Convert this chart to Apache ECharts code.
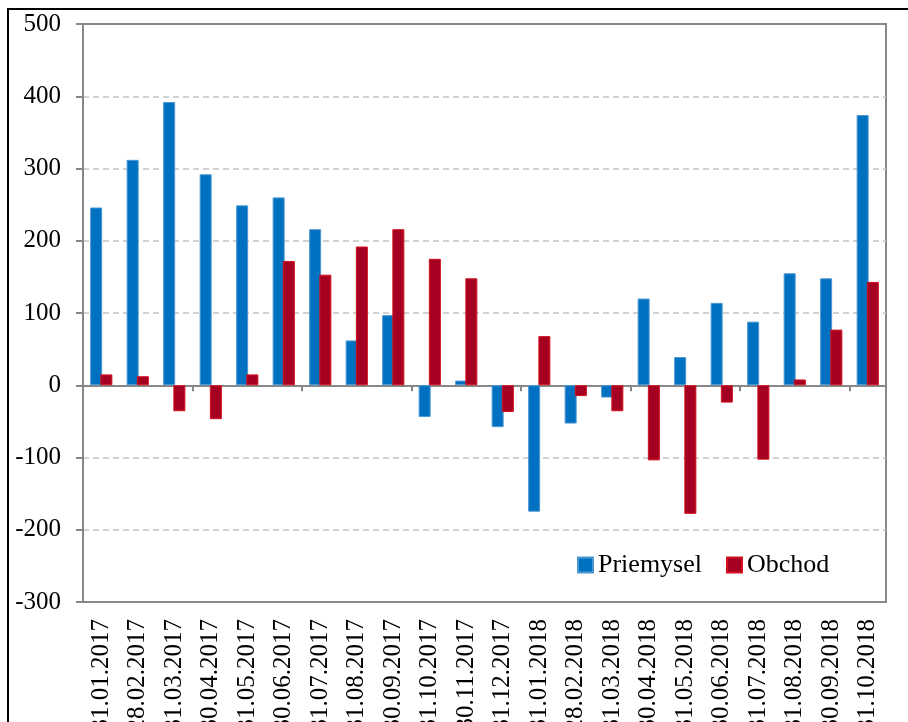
<!DOCTYPE html>
<html>
<head>
<meta charset="utf-8">
<script src="https://cdn.jsdelivr.net/npm/echarts@6/dist/echarts.min.js"></script>
<style>
    html, body {margin: 0; padding: 0; background: #fff;}
    #chart {width: 908px; height: 722px;}
</style>
</head>
<body>
<div id="chart"></div>
<script>
/**
 * 数据
 */
var categories = ['31.01.2017', '28.02.2017', '31.03.2017', '30.04.2017', '31.05.2017', '30.06.2017',
    '31.07.2017', '31.08.2017', '30.09.2017', '31.10.2017', '30.11.2017', '31.12.2017',
    '31.01.2018', '28.02.2018', '31.03.2018', '30.04.2018', '31.05.2018', '30.06.2018',
    '31.07.2018', '31.08.2018', '30.09.2018', '31.10.2018'];
var priemysel = [246, 312, 392, 292, 249, 260, 216, 62, 97, -44, 6.5, -58,
    -175, -53, -17, 120, 39, 114, 88, 155, 148, 374];
var obchod = [15, 12.5, -36, -47, 15, 172, 153, 192, 216, 175, 148, -37,
    68, -15, -36, -104, -178, -24, -103, 8, 77, 143];
var yMin = -300;
var yMax = 500;
var yStep = 100;

var font = 'Liberation Serif, Times New Roman, serif';

/**
 * 渲染柱状图
 */
function renderChart() {
    var chart = echarts.init(document.getElementById('chart'));
    // 网格线: 首尾不画(与边框重合)
    var splitColors = [];
    for (var v = yMin; v <= yMax; v += yStep) {
        splitColors.push((v == yMin || v == yMax) ? 'rgba(0,0,0,0)' : '#c4c4c4');
    }
    var option = {
        animation: false,
        backgroundColor: '#fff',
        graphic: [{
            type: 'rect',
            shape: {x: 8, y: 9, width: 1000, height: 1000},
            style: {fill: 'none', stroke: '#000', lineWidth: 2},
            silent: true
        }],
        grid: {
            left: 83,
            top: 24,
            right: 22,
            bottom: 120,
            outerBoundsMode: 'none',
            containLabel: false,
            show: true,
            borderColor: '#888',
            borderWidth: 2
        },
        legend: {
            left: 572,
            top: 547,
            itemWidth: 15,
            itemHeight: 15,
            itemGap: 24,
            icon: 'rect',
            textStyle: {fontFamily: font, fontSize: 26, color: '#000'},
            data: ['Priemysel', 'Obchod']
        },
        xAxis: [{
            type: 'category',
            data: categories,
            position: 'bottom',
            axisLine: {onZero: false, lineStyle: {color: '#888', width: 2}},
            axisTick: {show: false},
            axisLabel: {
                rotate: 90,
                margin: 17,
                interval: 0,
                fontFamily: font,
                fontSize: 25,
                color: '#000'
            },
            splitLine: {show: false}
        }, {
            type: 'category',
            data: categories,
            position: 'top',
            axisLine: {onZero: true, lineStyle: {color: '#888', width: 2}},
            axisTick: {show: true, inside: true, length: 6, lineStyle: {color: '#888', width: 2}},
            axisLabel: {show: false},
            splitLine: {show: false}
        }],
        yAxis: {
            type: 'value',
            min: yMin,
            max: yMax,
            interval: yStep,
            axisLine: {show: true, lineStyle: {color: '#888', width: 2}},
            axisTick: {show: true, length: 7, lineStyle: {color: '#888', width: 2}},
            axisLabel: {
                margin: 22,
                fontFamily: font,
                fontSize: 25,
                color: '#000'
            },
            splitLine: {
                show: true,
                lineStyle: {color: splitColors, type: [6, 4], width: 1.5}
            }
        },
        series: [{
            name: 'Priemysel',
            type: 'bar',
            xAxisIndex: 0,
            data: priemysel,
            barWidth: 12,
            barGap: '-15%',
            itemStyle: {color: '#0070c0', borderColor: '#4b97d4', borderWidth: 1}
        }, {
            name: 'Obchod',
            type: 'bar',
            xAxisIndex: 0,
            data: obchod,
            barWidth: 12,
            barGap: '-15%',
            itemStyle: {color: '#a50021', borderColor: '#d4101e', borderWidth: 1}
        }]
    };
    chart.setOption(option);
}

renderChart();
</script>
</body>
</html>
